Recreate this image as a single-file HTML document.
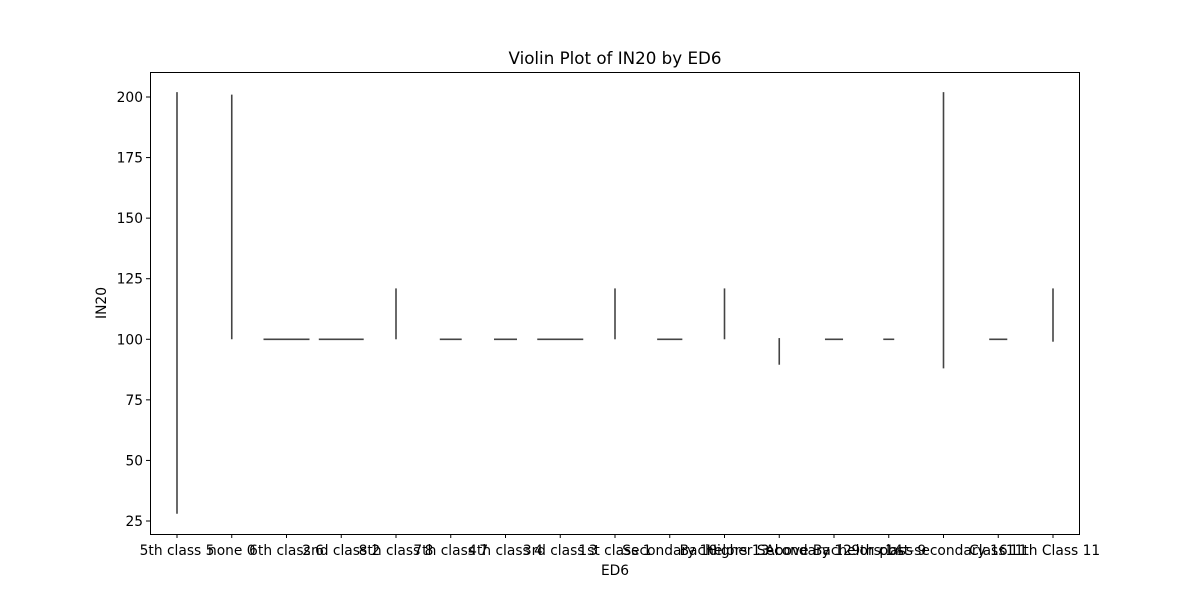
<!DOCTYPE html>
<html><head><meta charset="utf-8"><style>
body{margin:0;background:#fff;}
svg{display:block;font-family:"DejaVu Sans","Liberation Sans",sans-serif;}
</style></head><body>
<svg id="chart" width="1200" height="600">
<rect x="0" y="0" width="1200" height="600" fill="#fff"/>
<text x="615" y="64" text-anchor="middle" font-size="16.7">Violin Plot of IN20 by ED6</text>
<text x="615" y="575" text-anchor="middle" font-size="13.8">ED6</text>
<text transform="translate(106,303) rotate(-90)" text-anchor="middle" font-size="13.8">IN20</text>
<g id="marks"></g>
<g id="axes"></g>
<rect x="150.5" y="72.5" width="929" height="462" fill="none" stroke="#000" stroke-width="1"/>
</svg>
<script>
const categories=["5th class 5","none 0","6th class 6","2nd class 2","8th class 8","7th class 7","4th class 4","3rd class 3","1st class 1","Secondary 10","Bachelors 13","Higher Secondary 12","Above Bachelors 14","9th class 9","post-secondary 16","Class 11","11th Class 11"];
const mins=[28,100,100,100,100,100,100,100,100,100,100,89.5,100,100,88,100,99];
const maxs=[202,201,100,100,121,100,100,100,121,100,121,100.5,100,100,202,100,121];
const widths=[0,0,0.84,0.82,0,0.40,0.42,0.84,0,0.46,0,0,0.33,0.20,0,0.33,0];
const yTicks=[25,50,75,100,125,150,175,200];

const NS="http://www.w3.org/2000/svg";
const x0=150,x1=1080,yTop=72,yBot=534;
const n=categories.length;
const xScale=i=>177+i*((1053-177)/(n-1));
const yScale=v=>97+(200-v)*(521-97)/175;
const marks=document.getElementById('marks'), axes=document.getElementById('axes');
function mk(tag,attrs,parent){const e=document.createElementNS(NS,tag);for(const k in attrs)e.setAttribute(k,attrs[k]);parent.appendChild(e);return e;}
const catW=(1053-177)/(n-1);
categories.forEach((c,i)=>{
  const cx=xScale(i);
  let el;
  if(widths[i]>0){
    const hw=widths[i]*catW/2, y=yScale((mins[i]+maxs[i])/2);
    el=mk('line',{x1:cx-hw,x2:cx+hw,y1:y,y2:y,stroke:'#444',"stroke-width":1.6},marks);
  } else {
    el=mk('line',{x1:cx,x2:cx,y1:yScale(maxs[i]),y2:yScale(mins[i]),stroke:'#444',"stroke-width":1.6},marks);
  }
  
  
  const t=mk('line',{x1:cx,x2:cx,y1:yBot,y2:yBot+4,stroke:'#000'},axes);
  
  
  const l=mk('text',{x:cx,y:yBot+21,"text-anchor":"middle","font-size":13.8},axes);
  l.textContent=c;
  
  
});
yTicks.forEach(v=>{
  const y=yScale(v);
  const t=mk('line',{x1:x0-4,x2:x0,y1:y,y2:y,stroke:'#000'},axes);
  
  
  const l=mk('text',{x:x0-7,y:y+5,"text-anchor":"end","font-size":13.8},axes);
  l.textContent=v;
  
  
});
</script>
</body></html>
